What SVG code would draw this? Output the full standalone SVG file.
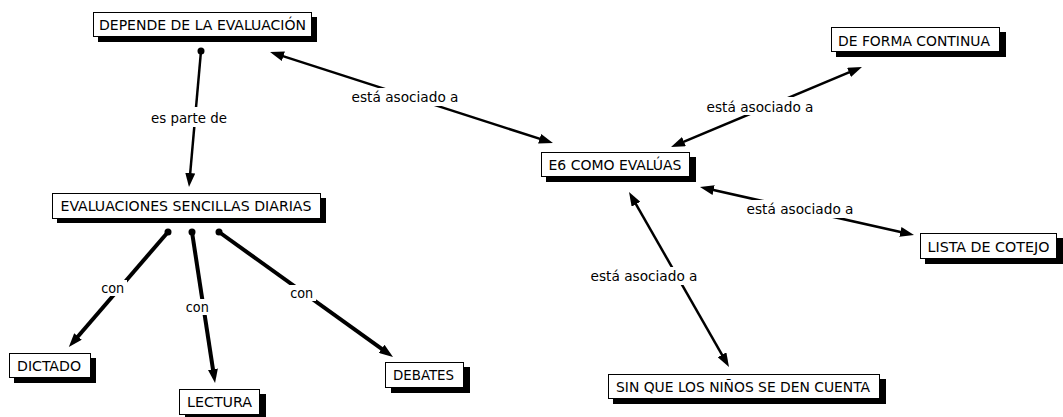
<svg xmlns="http://www.w3.org/2000/svg" width="1063" height="417" viewBox="0 0 1063 417">
<style>
.box{fill:#fff;stroke:#000;stroke-width:1}
.sh{fill:#000}
.nt{font-family:"DejaVu Sans Condensed","DejaVu Sans","Liberation Sans",sans-serif;font-size:14.5px;fill:#000;text-anchor:middle}
.lt{font-family:"DejaVu Sans Condensed","DejaVu Sans","Liberation Sans",sans-serif;font-size:14.5px;fill:#000;text-anchor:middle}
.lbg{fill:#fff}
.ln{fill:none;stroke:#000;stroke-width:2.5}
.lnb{fill:none;stroke:#000;stroke-width:4}
.dot{fill:#000}
</style>
<defs>
<marker id="ah" viewBox="0 0 14 10" markerWidth="14" markerHeight="10" refX="7" refY="5" markerUnits="userSpaceOnUse" orient="auto-start-reverse">
<path d="M0,0 L14,5 L0,10 z" fill="#000"/>
</marker>
</defs>
<rect width="1063" height="417" fill="#fff"/>
<g id="connectors">
<line class="ln" x1="276.7" y1="54.1" x2="546.3" y2="140.9" marker-start="url(#ah)" marker-end="url(#ah)"/>
<line class="ln" x1="677.5" y1="144.3" x2="855.5" y2="69.7" marker-start="url(#ah)" marker-end="url(#ah)"/>
<line class="ln" x1="706.8" y1="188.5" x2="907.2" y2="233.5" marker-start="url(#ah)" marker-end="url(#ah)"/>
<line class="ln" x1="632.5" y1="198.1" x2="725.5" y2="360.9" marker-start="url(#ah)" marker-end="url(#ah)"/>
<line class="ln" x1="201" y1="51" x2="189.6" y2="180" marker-end="url(#ah)"/>
<circle class="dot" cx="201" cy="51" r="3.5"/>
<line class="lnb" x1="168" y1="232" x2="73.4" y2="341.7" marker-end="url(#ah)"/>
<circle class="dot" cx="168" cy="232" r="3.5"/>
<line class="lnb" x1="192" y1="232" x2="214" y2="376.1" marker-end="url(#ah)"/>
<circle class="dot" cx="192" cy="232" r="3.5"/>
<line class="lnb" x1="219" y1="232" x2="387.3" y2="352.9" marker-end="url(#ah)"/>
<circle class="dot" cx="219" cy="232" r="3.5"/>
<g id="labels">
<rect class="lbg" x="348" y="88" width="114" height="18"/>
<text class="lt" x="405" y="102" textLength="107" lengthAdjust="spacingAndGlyphs">está asociado a</text>
<rect class="lbg" x="703" y="97" width="114" height="18"/>
<text class="lt" x="760" y="111.5" textLength="107" lengthAdjust="spacingAndGlyphs">está asociado a</text>
<rect class="lbg" x="743" y="200" width="114" height="18"/>
<text class="lt" x="800" y="214" textLength="107" lengthAdjust="spacingAndGlyphs">está asociado a</text>
<rect class="lbg" x="587" y="267" width="114" height="18"/>
<text class="lt" x="644" y="281" textLength="107" lengthAdjust="spacingAndGlyphs">está asociado a</text>
<rect class="lbg" x="148" y="107" width="82" height="20"/>
<text class="lt" x="189" y="123" textLength="76" lengthAdjust="spacingAndGlyphs">es parte de</text>
<rect class="lbg" x="98" y="280" width="29" height="16"/>
<text class="lt" x="112.7" y="292.7" textLength="23" lengthAdjust="spacingAndGlyphs">con</text>
<rect class="lbg" x="183" y="299" width="29" height="16"/>
<text class="lt" x="197.3" y="311.7" textLength="23" lengthAdjust="spacingAndGlyphs">con</text>
<rect class="lbg" x="287" y="285" width="29" height="16"/>
<text class="lt" x="301.7" y="298.3" textLength="23" lengthAdjust="spacingAndGlyphs">con</text>
</g>
</g>
<g id="n-depende">
<rect class="sh" x="98" y="17" width="219" height="25"/>
<rect class="box" x="93.5" y="12.5" width="218" height="24"/>
<text class="nt" x="202.5" y="30" textLength="207" lengthAdjust="spacingAndGlyphs">DEPENDE DE LA EVALUACIÓN</text>
</g>
<g id="n-evaluaciones">
<rect class="sh" x="57" y="198" width="269" height="25"/>
<rect class="box" x="52.5" y="193.5" width="268" height="25"/>
<text class="nt" x="186" y="211" textLength="251" lengthAdjust="spacingAndGlyphs">EVALUACIONES SENCILLAS DIARIAS</text>
</g>
<g id="n-dictado">
<rect class="sh" x="14" y="358" width="82" height="25"/>
<rect class="box" x="9.5" y="353.5" width="81" height="24"/>
<text class="nt" x="49" y="370.5" textLength="64" lengthAdjust="spacingAndGlyphs">DICTADO</text>
</g>
<g id="n-lectura">
<rect class="sh" x="185" y="394" width="81" height="26"/>
<rect class="box" x="179.5" y="389.5" width="80" height="25"/>
<text class="nt" x="219.5" y="406.5" textLength="65" lengthAdjust="spacingAndGlyphs">LECTURA</text>
</g>
<g id="n-debates">
<rect class="sh" x="391" y="367" width="79" height="26"/>
<rect class="box" x="385.5" y="362.5" width="78" height="25"/>
<text class="nt" x="423.5" y="380" textLength="61" lengthAdjust="spacingAndGlyphs">DEBATES</text>
</g>
<g id="n-e6">
<rect class="sh" x="546" y="157" width="150" height="25"/>
<rect class="box" x="541.5" y="152.5" width="148" height="24"/>
<text class="nt" x="615" y="169.5" textLength="133" lengthAdjust="spacingAndGlyphs">E6 COMO EVALÚAS</text>
</g>
<g id="n-forma">
<rect class="sh" x="836" y="32" width="170" height="25"/>
<rect class="box" x="831.5" y="27.5" width="168" height="24"/>
<text class="nt" x="914" y="45.5" textLength="152" lengthAdjust="spacingAndGlyphs">DE FORMA CONTINUA</text>
</g>
<g id="n-lista">
<rect class="sh" x="925" y="238" width="138" height="26"/>
<rect class="box" x="920.5" y="233.5" width="136" height="25"/>
<text class="nt" x="988.5" y="252" textLength="122" lengthAdjust="spacingAndGlyphs">LISTA DE COTEJO</text>
</g>
<g id="n-sinque">
<rect class="sh" x="613" y="379" width="273" height="25"/>
<rect class="box" x="608.5" y="374.5" width="271" height="24"/>
<text class="nt" x="743" y="392" textLength="254" lengthAdjust="spacingAndGlyphs">SIN QUE LOS NIÑOS SE DEN CUENTA</text>
</g>
</svg>
